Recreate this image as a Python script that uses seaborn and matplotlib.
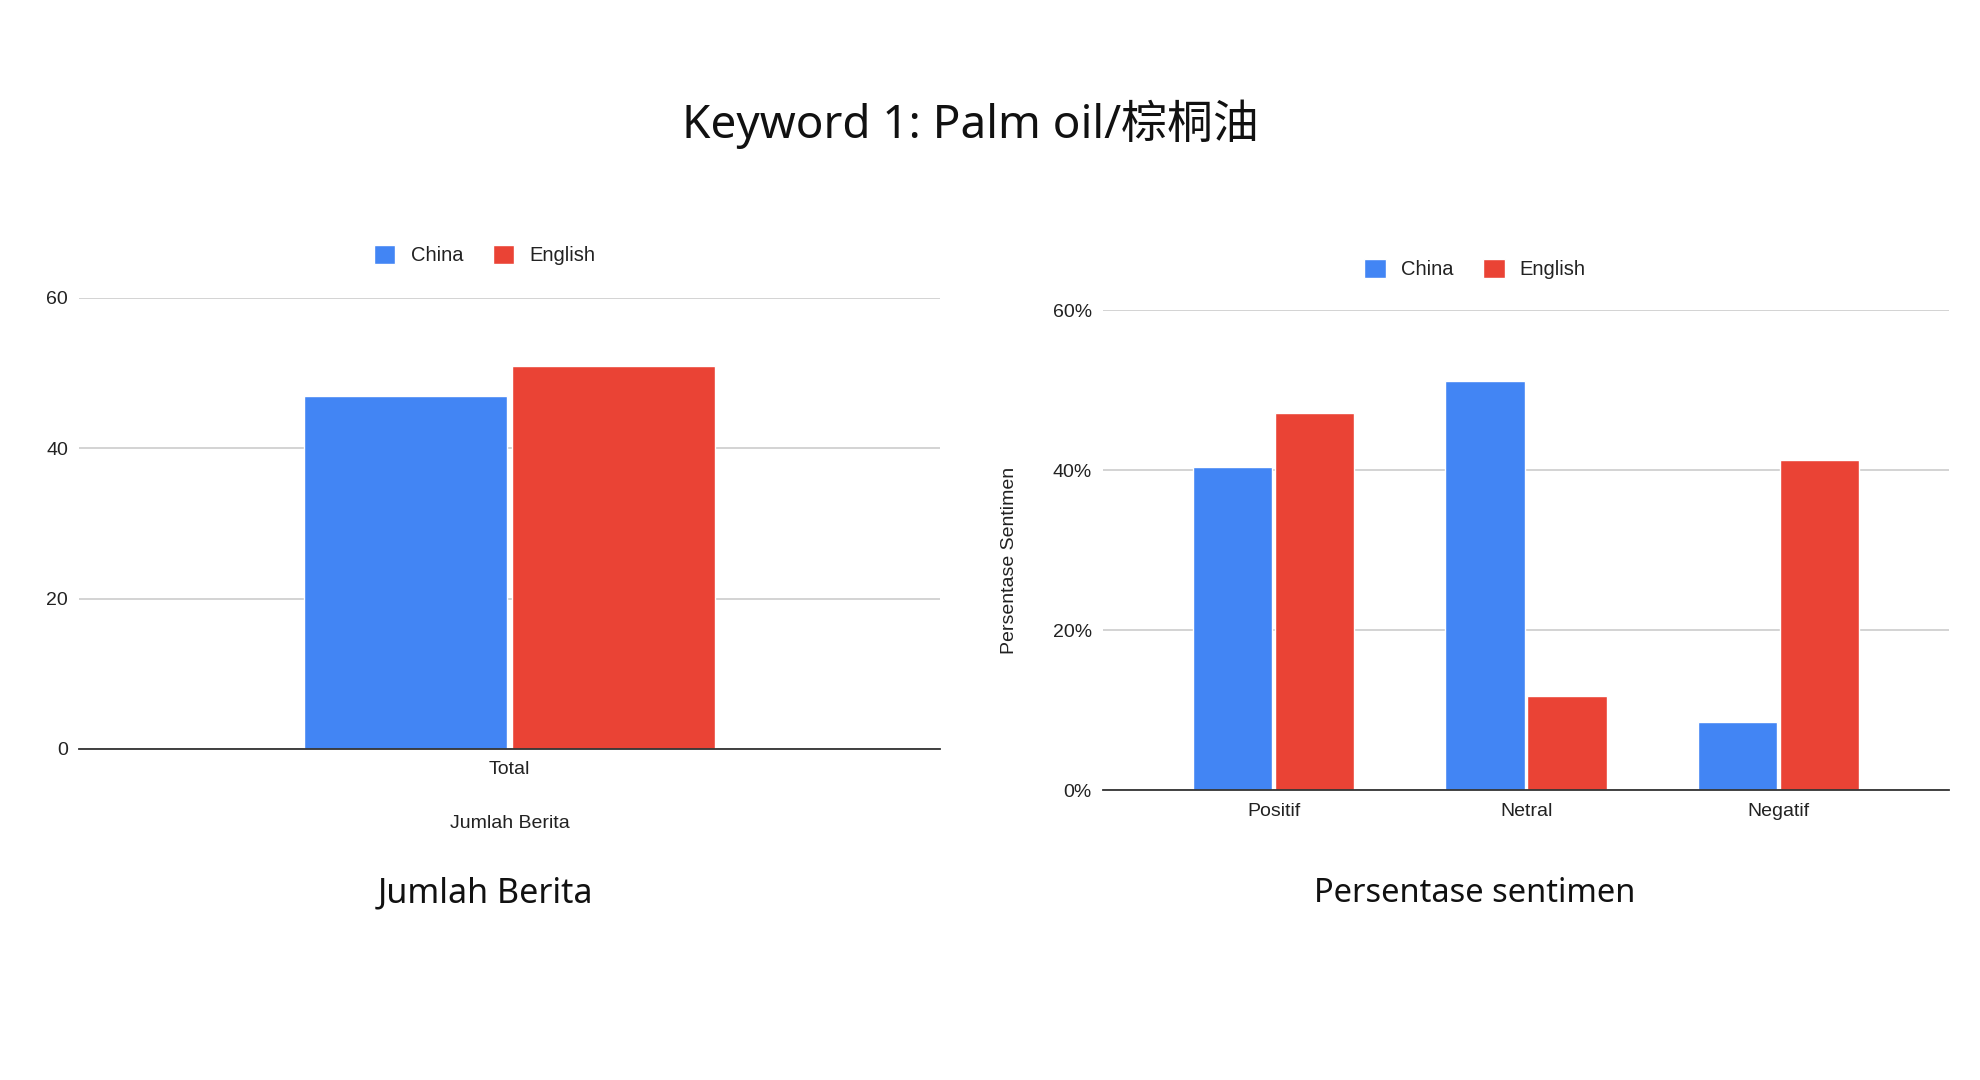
import pandas as pd
import matplotlib
matplotlib.use("Agg")
import matplotlib.pyplot as plt
from matplotlib.ticker import PercentFormatter
import seaborn as sns

# data
bahasa = ["China", "English"]
warna = ["#4285F4", "#EA4335"]
jumlah_kategori = ["Total"]
jumlah_china = [47]
jumlah_english = [51]
sentimen_kategori = ["Positif", "Netral", "Negatif"]
sentimen_china = [40.4, 51.1, 8.5]
sentimen_english = [47.1, 11.8, 41.2]

judul = "Keyword 1: Palm oil/棕桐油"
sub_kiri = "Jumlah Berita"
sub_kanan = "Persentase sentimen"

df_jumlah = pd.DataFrame({
    "kategori": jumlah_kategori * 2,
    "nilai": jumlah_china + jumlah_english,
    "bahasa": [bahasa[0]] * len(jumlah_kategori) + [bahasa[1]] * len(jumlah_kategori),
})
df_sentimen = pd.DataFrame({
    "kategori": sentimen_kategori * 2,
    "nilai": sentimen_china + sentimen_english,
    "bahasa": [bahasa[0]] * len(sentimen_kategori) + [bahasa[1]] * len(sentimen_kategori),
})

sns.set_style("white")
plt.rcParams["font.family"] = ["Liberation Sans", "DejaVu Sans"]
teks = "#222222"

fig = plt.figure(figsize=(19.8, 10.8), dpi=100)
ax1 = fig.add_axes([0.0399, 0.3065, 0.4348, 0.4176])
ax2 = fig.add_axes([0.5571, 0.2685, 0.4273, 0.4444])

sns.barplot(data=df_jumlah, x="kategori", y="nilai", hue="bahasa", hue_order=bahasa,
            palette=warna, width=0.483, gap=0.025, saturation=1, ax=ax1)
sns.barplot(data=df_sentimen, x="kategori", y="nilai", hue="bahasa", hue_order=bahasa,
            palette=warna, width=0.65, gap=0.03, saturation=1, ax=ax2)

ax1.set_xlim(-0.5, 0.5)
ax1.set_ylim(0, 60)
ax1.set_yticks([0, 20, 40, 60])
ax2.set_xlim(-0.675, 2.675)
ax2.set_ylim(0, 60)
ax2.set_yticks([0, 20, 40, 60])
ax2.yaxis.set_major_formatter(PercentFormatter(100, decimals=0))

for ax in (ax1, ax2):
    sns.despine(ax=ax, left=True)
    ax.spines["bottom"].set_color("#333333")
    ax.spines["bottom"].set_linewidth(1.3)
    ax.grid(axis="y", color="#cccccc", linewidth=1.2)
    ax.set_axisbelow(True)
    ax.tick_params(length=0, labelsize=14, labelcolor=teks)
    ax.tick_params(axis="x", pad=9)
    ax.tick_params(axis="y", pad=8)
    ax.set_ylabel("")
    ax.set_xlabel("")

ax1.set_xlabel("Jumlah Berita", fontsize=14, color=teks)
ax1.xaxis.set_label_coords(0.5, -0.146)
ax2.set_ylabel("Persentase Sentimen", fontsize=14, color=teks)
ax2.yaxis.set_label_coords(-0.1005, 0.479)

for ax, pos in ((ax1, (0.4715, 1.0953)), (ax2, (0.4397, 1.0854))):
    sns.move_legend(ax, "center", bbox_to_anchor=pos, ncol=2, frameon=False, title=None,
                    fontsize=14.5, handlelength=1.05, handleheight=1.05,
                    handletextpad=0.75, columnspacing=1.5)
    for t in ax.get_legend().get_texts():
        t.set_color(teks)

fig.text(0.4899, 1 - 124 / 1080, judul, ha="center", va="center", fontsize=33,
         family=["Noto Sans", "Noto Sans CJK SC"], color="#111111")
fig.text(0.245, 1 - 893 / 1080, sub_kiri, ha="center", va="center", fontsize=24.5,
         family=["Noto Sans"], color="#111111")
fig.text(0.745, 1 - 893 / 1080, sub_kanan, ha="center", va="center", fontsize=23.5,
         family=["Noto Sans"], color="#111111")

fig.savefig("out.png", dpi=100, facecolor="white")
